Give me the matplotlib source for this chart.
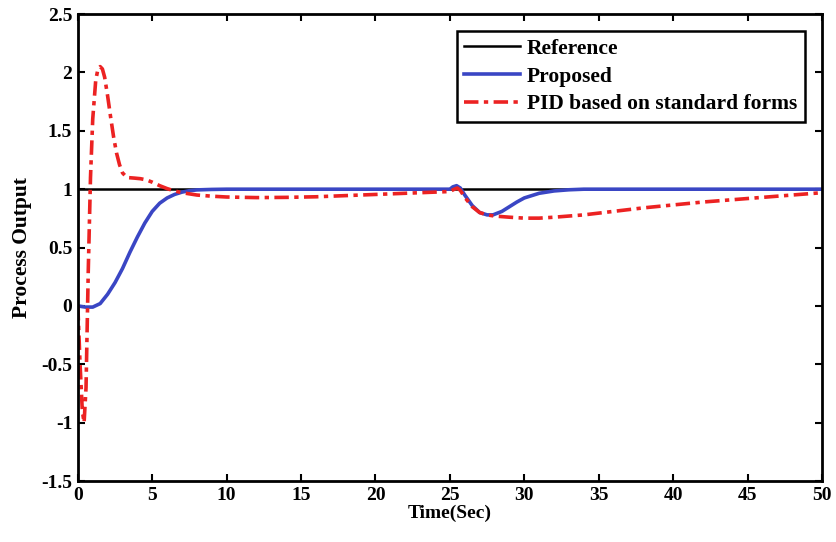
import numpy as np
import matplotlib
matplotlib.use("Agg")
import matplotlib.pyplot as plt

# reference step
t_ref = [0, 50]
y_ref = [1, 1]

# proposed controller response
t_prop = [0, 0.5, 1.0, 1.5, 2.0, 2.5, 3.0, 3.5, 4.0, 4.5, 5.0, 5.5, 6.0, 6.5,
          7.0, 7.5, 8.0, 9.0, 10, 25, 25.2, 25.45, 25.7, 26.0, 26.5, 27.0,
          27.5, 27.9, 28.5, 29, 29.5, 30, 31, 32, 33, 34, 50]
y_prop = [0, -0.01, -0.01, 0.02, 0.1, 0.2, 0.32, 0.46, 0.59, 0.71, 0.81, 0.88,
          0.925, 0.955, 0.975, 0.987, 0.994, 0.998, 1.0, 1.0, 1.02, 1.03, 1.01,
          0.95, 0.86, 0.80, 0.78, 0.78, 0.81, 0.85, 0.89, 0.925, 0.965, 0.985,
          0.995, 1.0, 1.0]

# PID based on standard forms
t_pid = [0, 0.15, 0.3, 0.42, 0.55, 0.7, 0.85, 1.0, 1.2, 1.35, 1.5, 1.65, 1.8,
         2.0, 2.2, 2.4, 2.6, 2.8, 3.0, 3.3, 3.8, 4.2, 4.6, 5.0, 5.5, 6.0, 6.5,
         7.0, 8.0, 9.0, 10, 12, 14, 16, 18, 20, 22, 24, 25, 25.3, 25.5, 25.7,
         26.0, 26.5, 27.0, 27.5, 28, 29, 30, 31, 32, 34, 36, 38, 40, 42, 44,
         46, 48, 50]
y_pid = [0, -0.5, -0.9, -1.0, -0.7, 0.3, 1.1, 1.6, 1.93, 2.03, 2.05, 2.03, 1.96,
         1.8, 1.62, 1.45, 1.31, 1.21, 1.14, 1.10, 1.095, 1.09, 1.08, 1.06,
         1.03, 1.005, 0.985, 0.97, 0.95, 0.94, 0.933, 0.928, 0.93, 0.935,
         0.945, 0.955, 0.965, 0.975, 0.98, 1.0, 1.01, 0.99, 0.93, 0.85, 0.80,
         0.78, 0.77, 0.76, 0.752, 0.752, 0.76, 0.78, 0.81, 0.84, 0.865, 0.89,
         0.91, 0.93, 0.95, 0.97]

plt.rcParams['font.family'] = ['Liberation Serif', 'DejaVu Serif']
plt.rcParams['font.weight'] = 'bold'

fig = plt.figure(figsize=(8.37, 5.42), dpi=100)
ax = fig.add_axes([0.093, 0.1125, 0.889, 0.8615])

ax.plot(t_ref, y_ref, color='black', lw=1.8, label='Reference')
ax.plot(t_prop, y_prop, color='#3a46c4', lw=2.6, label='Proposed')
ax.plot(t_pid, y_pid, color='#ec2222', lw=2.6, ls=(0, (4, 1.5, 1.2, 1.5)),
        label='PID based on standard forms')

ax.set_xlim(0, 50)
ax.set_ylim(-1.5, 2.5)
ax.set_xticks(np.arange(0, 51, 5))
ax.set_yticks(np.arange(-1.5, 2.51, 0.5))
ax.set_yticklabels(['-1.5', '-1', '-0.5', '0', '0.5', '1', '1.5', '2', '2.5'])
ax.tick_params(direction='in', top=True, right=True, length=5, width=1.5,
               labelsize=14, pad=4)
for s in ax.spines.values():
    s.set_linewidth(2)

ax.set_xlabel('Time(Sec)', fontsize=14, fontweight='bold', labelpad=1)
ax.set_ylabel('Process Output', fontsize=15.5, fontweight='bold', labelpad=7)

leg = ax.legend(loc='upper right', fontsize=15.5, fancybox=False, framealpha=1,
                edgecolor='black', handlelength=2.6, borderaxespad=0.8,
                labelspacing=0.35, handletextpad=0.3, borderpad=0.35)
leg.get_frame().set_linewidth(1.8)

fig.savefig('out.png', dpi=100)
